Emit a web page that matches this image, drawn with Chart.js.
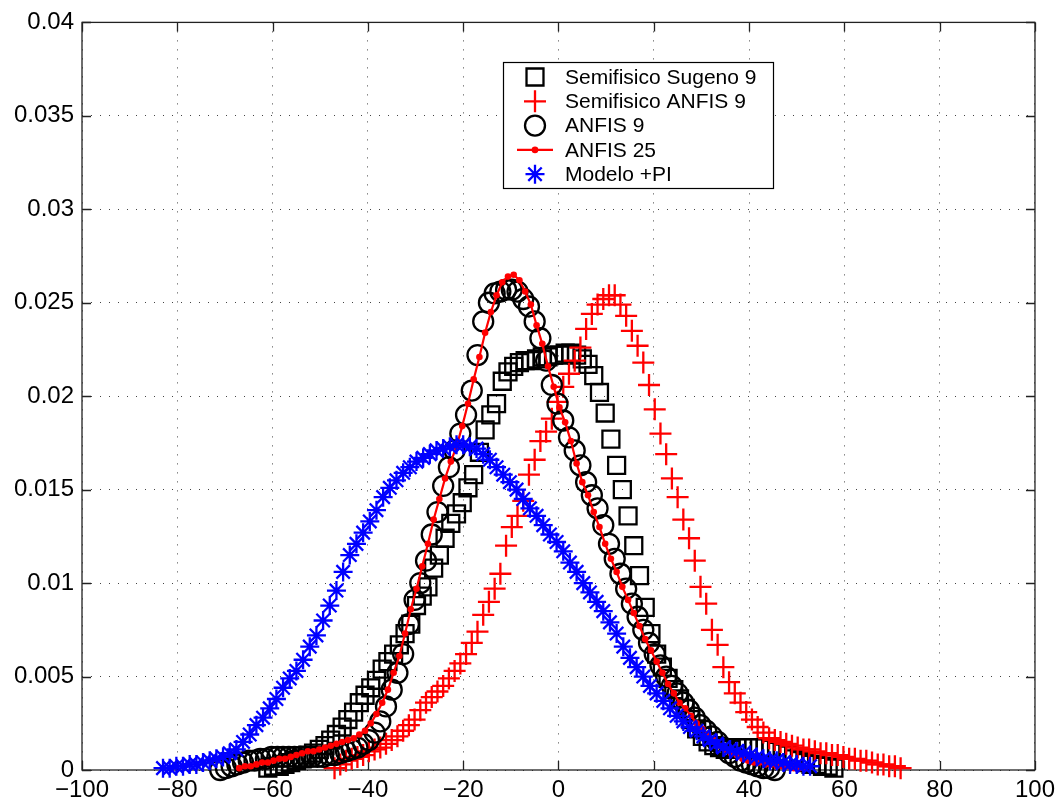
<!DOCTYPE html>
<html>
<head>
<meta charset="utf-8">
<script src="https://cdn.jsdelivr.net/npm/chart.js@4.4.1/dist/chart.umd.min.js"></script>
<style>
  html, body { margin: 0; padding: 0; background: #fff; }
</style>
</head>
<body>
<canvas id="grafico" width="1061" height="807"></canvas>
<script>
// Densidades de error de cinco modelos

const xTicks = [-100, -80, -60, -40, -20, 0, 20, 40, 60, 80, 100];
const xTickLabels = ['\u2212100', '\u221280', '\u221260', '\u221240', '\u221220', '0', '20', '40', '60', '80', '100'];
const yTicks = [0, 0.005, 0.01, 0.015, 0.02, 0.025, 0.03, 0.035, 0.04];
const yTickLabels = ['0', '0.005', '0.01', '0.015', '0.02', '0.025', '0.03', '0.035', '0.04'];

const nombres = ['Semifisico Sugeno 9', 'Semifisico ANFIS 9', 'ANFIS 9', 'ANFIS 25', 'Modelo +PI'];

// Semifisico Sugeno 9 (cuadrados)
const xSugeno = [
  -61, -59.8, -58.6, -57.4, -56.2, -55, -53.8, -52.6, -51.4, -50.2,
  -49, -47.8, -46.6, -45.4, -44.2, -43, -41.8, -40.6, -39.4, -38.2,
  -37, -35.8, -34.6, -33.4, -32.2, -31, -29.8, -28.6, -27.4, -26.2,
  -25, -23.8, -22.6, -21.4, -20.2, -19, -17.8, -16.6, -15.4, -14.2,
  -13, -11.8, -10.6, -9.4, -8.2, -7, -5.8, -4.6, -3.4, -2.2,
  -1, 0.2, 1.4, 2.6, 3.8, 5, 6.2, 7.4, 8.6, 9.8,
  11, 12.2, 13.4, 14.6, 15.8, 17, 18.2, 19.4, 20.6, 21.8,
  23, 24.2, 25.4, 26.6, 27.8, 29, 30.2, 31.4, 32.6, 33.8,
  35, 36.2, 37.4, 38.6, 39.8, 41, 42.2, 43.4, 44.6, 45.8,
  47, 48.2, 49.4, 50.6, 51.8, 53, 54.2, 55.4, 56.6, 57.8
];
const ySugeno = [
  0.0001, 0.0002, 0.0002, 0.0003, 0.0004, 0.0005, 0.0006, 0.0008, 0.0009, 0.0011,
  0.0013, 0.0016, 0.0019, 0.0023, 0.0027, 0.0031, 0.0036, 0.0040, 0.0044, 0.0048,
  0.0054, 0.0058, 0.0062, 0.0067, 0.0073, 0.0078, 0.0088, 0.0093, 0.0098, 0.0108,
  0.0115, 0.0124, 0.0132, 0.0137, 0.0143, 0.0151, 0.0158, 0.0170, 0.0182, 0.0190,
  0.0196, 0.0208, 0.0213, 0.0216, 0.0218, 0.0219, 0.0219, 0.0220, 0.0221, 0.0221,
  0.0222, 0.0222, 0.0223, 0.0223, 0.0222, 0.0220, 0.0217, 0.0211, 0.0202, 0.0191,
  0.0177, 0.0163, 0.0150, 0.0136, 0.0120, 0.0104, 0.0087, 0.0073, 0.0062, 0.0055,
  0.0049, 0.0043, 0.0038, 0.0033, 0.0027, 0.0022, 0.0018, 0.0015, 0.0013, 0.0012,
  0.0011, 0.0011, 0.0012, 0.0012, 0.0012, 0.0012, 0.0012, 0.0012, 0.0011, 0.0010,
  0.0009, 0.0008, 0.0006, 0.0005, 0.0004, 0.0003, 0.0003, 0.0002, 0.0002, 0.0001
];

// Semifisico ANFIS 9 (cruces rojas)
const xSemiAnfis = [
  -47, -45.8, -44.6, -43.4, -42.2, -41, -39.8, -38.6, -37.4, -36.2,
  -35, -33.8, -32.6, -31.4, -30.2, -29, -27.8, -26.6, -25.4, -24.2,
  -23, -21.8, -20.6, -19.4, -18.2, -17, -15.8, -14.6, -13.4, -12.2,
  -11, -9.8, -8.6, -7.4, -6.2, -5, -3.8, -2.6, -1.4, -0.2,
  1, 2.2, 3.4, 4.6, 5.8, 7, 8.2, 9.4, 10.6, 11.8,
  13, 14.2, 15.4, 16.6, 17.8, 19, 20.2, 21.4, 22.6, 23.8,
  25, 26.2, 27.4, 28.6, 29.8, 31, 32.2, 33.4, 34.6, 35.8,
  37, 38.2, 39.4, 40.6, 41.8, 43, 44.2, 45.4, 46.6, 47.8,
  49, 50.2, 51.4, 52.6, 53.8, 55, 56.2, 57.4, 58.6, 59.8,
  61, 62.2, 63.4, 64.6, 65.8, 67, 68.2, 69.4, 70.6, 71.8
];
const ySemiAnfis = [
  0.0001, 0.0003, 0.0005, 0.0006, 0.0007, 0.0008, 0.0010, 0.0011, 0.0012, 0.0014,
  0.0016, 0.0018, 0.0021, 0.0024, 0.0027, 0.0032, 0.0036, 0.0039, 0.0042, 0.0045,
  0.0049, 0.0053, 0.0057, 0.0062, 0.0068, 0.0074, 0.0083, 0.0090, 0.0097, 0.0105,
  0.0120, 0.0130, 0.0136, 0.0144, 0.0158, 0.0166, 0.0176, 0.0181, 0.0188, 0.0197,
  0.0205, 0.0212, 0.0219, 0.0226, 0.0236, 0.0244, 0.0249, 0.0252, 0.0254, 0.0254,
  0.0249, 0.0243, 0.0235, 0.0227, 0.0218, 0.0206, 0.0193, 0.0180, 0.0169, 0.0156,
  0.0146, 0.0134, 0.0124, 0.0112, 0.0098, 0.0089, 0.0075, 0.0067, 0.0055, 0.0047,
  0.0041, 0.0036, 0.0031, 0.0027, 0.0023, 0.0020, 0.0017, 0.0016, 0.0015, 0.0014,
  0.0013, 0.0012, 0.0011, 0.0011, 0.0010, 0.0009, 0.0009, 0.0008, 0.0008, 0.0007,
  0.0006, 0.0006, 0.0005, 0.0005, 0.0004, 0.0003, 0.0003, 0.0002, 0.0002, 0.0001
];

// ANFIS 9 (circulos)
const xAnfis9 = [
  -71, -69.8, -68.6, -67.4, -66.2, -65, -63.8, -62.6, -61.4, -60.2,
  -59, -57.8, -56.6, -55.4, -54.2, -53, -51.8, -50.6, -49.4, -48.2,
  -47, -45.8, -44.6, -43.4, -42.2, -41, -39.8, -38.6, -37.4, -36.2,
  -35, -33.8, -32.6, -31.4, -30.2, -29, -27.8, -26.6, -25.4, -24.2,
  -23, -21.8, -20.6, -19.4, -18.2, -17, -15.8, -14.6, -13.4, -12.2,
  -11, -9.8, -8.6, -7.4, -6.2, -5, -3.8, -2.6, -1.4, -0.2,
  1, 2.2, 3.4, 4.6, 5.8, 7, 8.2, 9.4, 10.6, 11.8,
  13, 14.2, 15.4, 16.6, 17.8, 19, 20.2, 21.4, 22.6, 23.8,
  25, 26.2, 27.4, 28.6, 29.8, 31, 32.2, 33.4, 34.6, 35.8,
  37, 38.2, 39.4, 40.6, 41.8, 43, 44.2, 45.4
];
const yAnfis9 = [
  0.0000, 0.0001, 0.0002, 0.0003, 0.0004, 0.0005, 0.0005, 0.0006, 0.0006, 0.0007,
  0.0007, 0.0007, 0.0007, 0.0007, 0.0007, 0.0007, 0.0007, 0.0007, 0.0007, 0.0008,
  0.0008, 0.0009, 0.0010, 0.0011, 0.0012, 0.0014, 0.0016, 0.0020, 0.0026, 0.0034,
  0.0043, 0.0052, 0.0062, 0.0078, 0.0091, 0.0100, 0.0112, 0.0126, 0.0138, 0.0152,
  0.0162, 0.0171, 0.0180, 0.0190, 0.0203, 0.0222, 0.0240, 0.0250, 0.0255, 0.0256,
  0.0257, 0.0257, 0.0256, 0.0252, 0.0248, 0.0240, 0.0231, 0.0219, 0.0206, 0.0196,
  0.0187, 0.0178, 0.0171, 0.0163, 0.0154, 0.0147, 0.0140, 0.0131, 0.0121, 0.0113,
  0.0105, 0.0097, 0.0089, 0.0082, 0.0075, 0.0068, 0.0062, 0.0056, 0.0050, 0.0045,
  0.0041, 0.0036, 0.0032, 0.0028, 0.0024, 0.0021, 0.0018, 0.0015, 0.0012, 0.0009,
  0.0007, 0.0005, 0.0004, 0.0003, 0.0002, 0.0001, 0.0001, 0.0000
];

// ANFIS 25 (linea roja con puntos)
const xAnfis25 = [
  -67, -65.8, -64.6, -63.4, -62.2, -61, -59.8, -58.6, -57.4, -56.2,
  -55, -53.8, -52.6, -51.4, -50.2, -49, -47.8, -46.6, -45.4, -44.2,
  -43, -41.8, -40.6, -39.4, -38.2, -37, -35.8, -34.6, -33.4, -32.2,
  -31, -29.8, -28.6, -27.4, -26.2, -25, -23.8, -22.6, -21.4, -20.2,
  -19, -17.8, -16.6, -15.4, -14.2, -13, -11.8, -10.6, -9.4, -8.2,
  -7, -5.8, -4.6, -3.4, -2.2, -1, 0.2, 1.4, 2.6, 3.8,
  5, 6.2, 7.4, 8.6, 9.8, 11, 12.2, 13.4, 14.6, 15.8,
  17, 18.2, 19.4, 20.6, 21.8, 23, 24.2, 25.4, 26.6, 27.8,
  29, 30.2, 31.4, 32.6, 33.8, 35, 36.2, 37.4, 38.6, 39.8,
  41, 42.2, 43.4, 44.6, 45.8, 47, 48.2, 49.4, 50.6, 51.8
];
const yAnfis25 = [
  0.0001, 0.0002, 0.0002, 0.0003, 0.0004, 0.0004, 0.0005, 0.0006, 0.0006, 0.0007,
  0.0008, 0.0009, 0.0010, 0.0010, 0.0011, 0.0012, 0.0013, 0.0014, 0.0015, 0.0016,
  0.0017, 0.0019, 0.0021, 0.0025, 0.0030, 0.0036, 0.0043, 0.0052, 0.0061, 0.0073,
  0.0086, 0.0097, 0.0109, 0.0121, 0.0134, 0.0145, 0.0156, 0.0165, 0.0173, 0.0184,
  0.0196, 0.0209, 0.0221, 0.0234, 0.0245, 0.0254, 0.0261, 0.0264, 0.0265, 0.0262,
  0.0256, 0.0249, 0.0238, 0.0228, 0.0216, 0.0205, 0.0194, 0.0186, 0.0176, 0.0164,
  0.0154, 0.0147, 0.0138, 0.0130, 0.0121, 0.0113, 0.0106, 0.0098, 0.0091, 0.0084,
  0.0077, 0.0070, 0.0064, 0.0058, 0.0052, 0.0046, 0.0041, 0.0036, 0.0033, 0.0029,
  0.0025, 0.0022, 0.0019, 0.0016, 0.0013, 0.0011, 0.0009, 0.0008, 0.0006, 0.0005,
  0.0004, 0.0004, 0.0003, 0.0003, 0.0002, 0.0002, 0.0002, 0.0001, 0.0001, 0.0001
];

// Modelo +PI (asteriscos azules)
const xModelo = [
  -83, -81.6, -80.2, -78.8, -77.4, -76, -74.6, -73.2, -71.8, -70.4,
  -69, -67.6, -66.2, -64.8, -63.4, -62, -60.6, -59.2, -57.8, -56.4,
  -55, -53.6, -52.2, -50.8, -49.4, -48, -46.6, -45.2, -43.8, -42.4,
  -41, -39.6, -38.2, -36.8, -35.4, -34, -32.6, -31.2, -29.8, -28.4,
  -27, -25.6, -24.2, -22.8, -21.4, -20, -18.6, -17.2, -15.8, -14.4,
  -13, -11.6, -10.2, -8.8, -7.4, -6, -4.6, -3.2, -1.8, -0.4,
  1, 2.4, 3.8, 5.2, 6.6, 8, 9.4, 10.8, 12.2, 13.6,
  15, 16.4, 17.8, 19.2, 20.6, 22, 23.4, 24.8, 26.2, 27.6,
  29, 30.4, 31.8, 33.2, 34.6, 36, 37.4, 38.8, 40.2, 41.6,
  43, 44.4, 45.8, 47.2, 48.6, 50, 51.4, 52.8
];
const yModelo = [
  0.0001, 0.0001, 0.0002, 0.0002, 0.0003, 0.0003, 0.0004, 0.0005, 0.0006, 0.0007,
  0.0009, 0.0011, 0.0015, 0.0019, 0.0024, 0.0028, 0.0033, 0.0038, 0.0044, 0.0049,
  0.0053, 0.0059, 0.0066, 0.0072, 0.0080, 0.0088, 0.0096, 0.0106, 0.0115, 0.0121,
  0.0127, 0.0133, 0.0139, 0.0146, 0.0151, 0.0155, 0.0159, 0.0162, 0.0165, 0.0167,
  0.0169, 0.0171, 0.0172, 0.0173, 0.0174, 0.0174, 0.0173, 0.0172, 0.0169, 0.0166,
  0.0162, 0.0158, 0.0154, 0.0150, 0.0145, 0.0140, 0.0136, 0.0131, 0.0126, 0.0122,
  0.0117, 0.0111, 0.0106, 0.0100, 0.0095, 0.0090, 0.0085, 0.0079, 0.0073, 0.0066,
  0.0060, 0.0055, 0.0050, 0.0045, 0.0041, 0.0037, 0.0033, 0.0029, 0.0026, 0.0023,
  0.0021, 0.0018, 0.0016, 0.0014, 0.0012, 0.0011, 0.0010, 0.0009, 0.0008, 0.0007,
  0.0006, 0.0005, 0.0005, 0.0004, 0.0003, 0.0003, 0.0002, 0.0002
];

const fuente = '"Liberation Sans", Arial, Helvetica, sans-serif';
const trazo = 2.3;

function puntos(xs, ys) {
  return xs.map((x, i) => ({ x: x, y: ys[i] }));
}

// marcadores para la leyenda, mismo tamano que en la grafica
function marcador(ctx, tipo, x, y) {
  ctx.beginPath();
  if (tipo === 'rect') {
    const s = 12 * Math.SQRT1_2;
    ctx.rect(x - s, y - s, 2 * s, 2 * s);
  } else if (tipo === 'cross') {
    ctx.moveTo(x - 11, y); ctx.lineTo(x + 11, y);
    ctx.moveTo(x, y - 11); ctx.lineTo(x, y + 11);
  } else if (tipo === 'circle') {
    ctx.arc(x, y, 10, 0, Math.PI * 2);
  } else if (tipo === 'star') {
    const r = 9.5, d = r * Math.SQRT1_2;
    ctx.moveTo(x - r, y); ctx.lineTo(x + r, y);
    ctx.moveTo(x, y - r); ctx.lineTo(x, y + r);
    ctx.moveTo(x - d, y - d); ctx.lineTo(x + d, y + d);
    ctx.moveTo(x - d, y + d); ctx.lineTo(x + d, y - d);
  }
  ctx.stroke();
}

const marcoEjes = {
  id: 'marcoEjes',
  beforeDatasetsDraw(chart) {
    const { ctx, chartArea: a, scales } = chart;
    ctx.save();
    ctx.strokeStyle = '#222';
    ctx.lineWidth = 1.3;
    ctx.strokeRect(a.left, a.top, a.right - a.left, a.bottom - a.top);
    ctx.beginPath();
    xTicks.forEach(v => {
      const px = Math.round(scales.x.getPixelForValue(v)) + 0.5;
      ctx.moveTo(px, a.bottom); ctx.lineTo(px, a.bottom - 9);
      ctx.moveTo(px, a.top); ctx.lineTo(px, a.top + 9);
    });
    yTicks.forEach(v => {
      const py = Math.round(scales.y.getPixelForValue(v)) + 0.5;
      ctx.moveTo(a.left, py); ctx.lineTo(a.left + 9, py);
      ctx.moveTo(a.right, py); ctx.lineTo(a.right - 9, py);
    });
    ctx.stroke();
    ctx.restore();
  }
};

const leyenda = {
  id: 'leyenda',
  afterDraw(chart) {
    const ctx = chart.ctx;
    const box = { x: 503.5, y: 62.5, w: 270, h: 126 };
    const tipos = ['rect', 'cross', 'circle', 'line', 'star'];
    const colores = ['#000', '#ff0000', '#000', '#ff0000', '#0000ff'];
    ctx.save();
    ctx.fillStyle = '#fff';
    ctx.fillRect(box.x, box.y, box.w, box.h);
    ctx.strokeStyle = '#000';
    ctx.lineWidth = 1.2;
    ctx.strokeRect(box.x, box.y, box.w, box.h);
    ctx.font = '21px ' + fuente;
    ctx.textBaseline = 'middle';
    nombres.forEach((n, i) => {
      const yy = 77 + i * 24.3;
      ctx.strokeStyle = colores[i];
      ctx.lineWidth = trazo;
      if (tipos[i] === 'line') {
        ctx.beginPath();
        ctx.moveTo(517, yy); ctx.lineTo(553, yy);
        ctx.stroke();
        ctx.fillStyle = colores[i];
        ctx.beginPath();
        ctx.arc(535, yy, 3.3, 0, Math.PI * 2);
        ctx.fill();
      } else {
        marcador(ctx, tipos[i], 535, yy);
      }
      ctx.fillStyle = '#000';
      ctx.fillText(n, 565, yy + 1);
    });
    ctx.restore();
  }
};

const ejeComun = {
  type: 'linear',
  grid: { color: '#444', lineWidth: 1, drawTicks: false },
  border: { display: false, dash: [1, 8] }
};

new Chart(document.getElementById('grafico'), {
  type: 'scatter',
  data: {
    datasets: [
      {
        label: nombres[0], data: puntos(xSugeno, ySugeno), order: 5,
        pointStyle: 'rect', pointRadius: 12, pointBorderWidth: trazo,
        borderColor: '#000', backgroundColor: 'rgba(0,0,0,0)', clip: false
      },
      {
        label: nombres[1], data: puntos(xSemiAnfis, ySemiAnfis), order: 4,
        pointStyle: 'cross', pointRadius: 11, pointBorderWidth: trazo,
        borderColor: '#ff0000', backgroundColor: 'rgba(0,0,0,0)', clip: false
      },
      {
        label: nombres[2], data: puntos(xAnfis9, yAnfis9), order: 3,
        pointStyle: 'circle', pointRadius: 10, pointBorderWidth: trazo,
        borderColor: '#000', backgroundColor: 'rgba(0,0,0,0)', clip: false
      },
      {
        label: nombres[3], data: puntos(xAnfis25, yAnfis25), order: 2,
        showLine: true, borderColor: '#ff0000', borderWidth: 2.2, tension: 0,
        pointStyle: 'circle', pointRadius: 3.3, pointBorderWidth: 0,
        pointBackgroundColor: '#ff0000', backgroundColor: '#ff0000', clip: false
      },
      {
        label: nombres[4], data: puntos(xModelo, yModelo), order: 1,
        pointStyle: 'star', pointRadius: 9.5, pointBorderWidth: trazo,
        borderColor: '#0000ff', backgroundColor: 'rgba(0,0,0,0)', clip: false
      }
    ]
  },
  options: {
    responsive: false,
    animation: false,
    devicePixelRatio: 1,
    events: [],
    layout: { padding: { left: 0, right: 26, top: 19, bottom: 0 } },
    plugins: { legend: { display: false }, tooltip: { enabled: false } },
    scales: {
      x: Object.assign({}, ejeComun, {
        min: -100, max: 100,
        afterFit: s => { s.height = 37; },
        afterBuildTicks: s => { s.ticks = xTicks.map(v => ({ value: v })); },
        ticks: {
          autoSkip: false, maxRotation: 0, padding: 6, color: '#000',
          font: { family: fuente, size: 24 },
          callback: (v, i) => xTickLabels[i]
        }
      }),
      y: Object.assign({}, ejeComun, {
        min: 0, max: 0.04,
        afterFit: s => { s.width = 82; },
        afterBuildTicks: s => { s.ticks = yTicks.map(v => ({ value: v })); },
        ticks: {
          autoSkip: false, padding: 8, color: '#000',
          font: { family: fuente, size: 24 },
          callback: (v, i) => yTickLabels[i]
        }
      })
    }
  },
  plugins: [marcoEjes, leyenda]
});
</script>
</body>
</html>
